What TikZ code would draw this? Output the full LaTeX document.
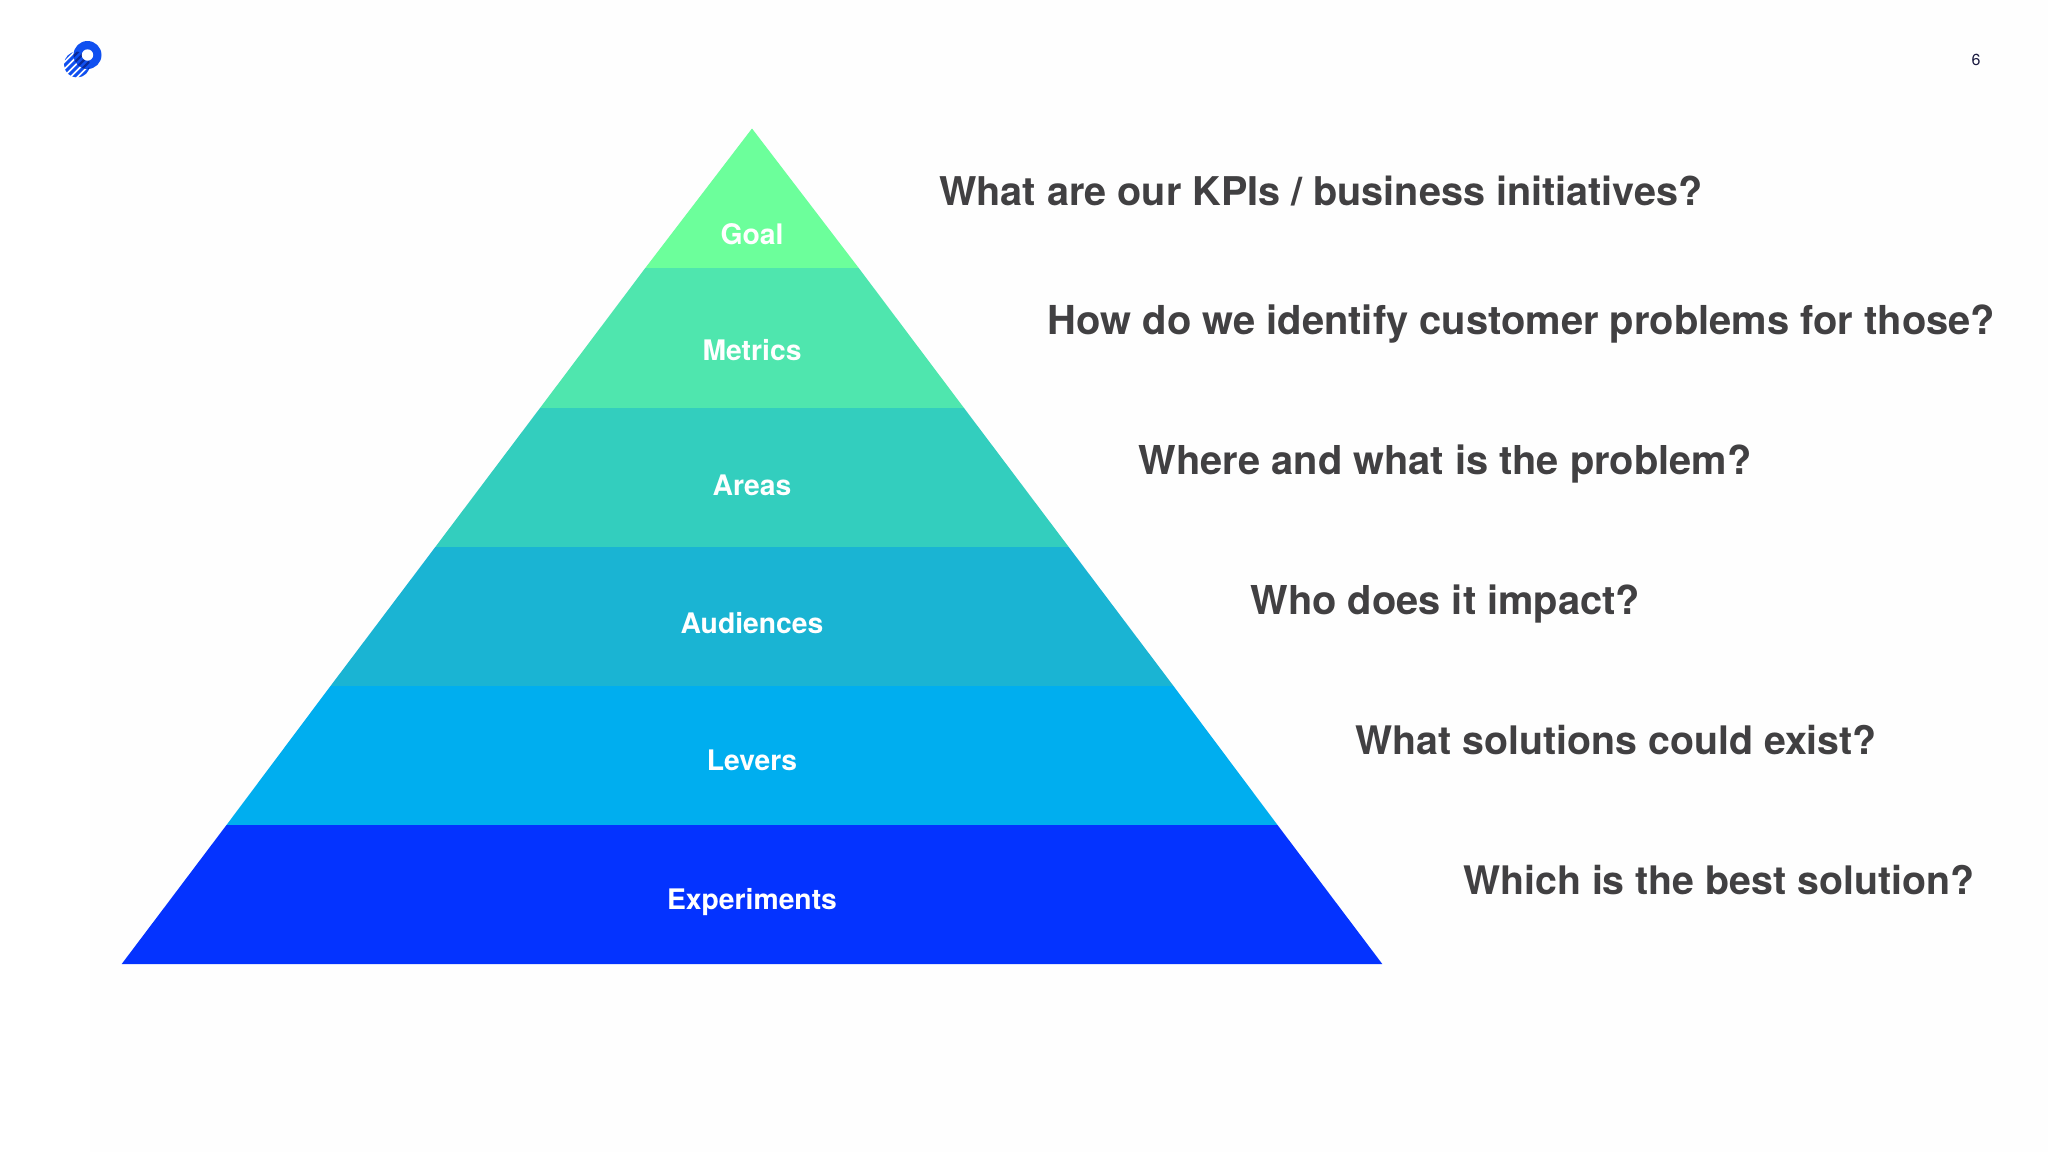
\documentclass[tikz,border=0pt]{standalone}
\usepackage{fontspec}
\setmainfont{TeX Gyre Heros}
\definecolor{bgc}{HTML}{FEFEFE}
\definecolor{goalc}{HTML}{6CFF9B}
\definecolor{metc}{HTML}{4FE6AE}
\definecolor{areac}{HTML}{33CEBE}
\definecolor{audc}{HTML}{1AB4D3}
\definecolor{levc}{HTML}{00AEEF}
\definecolor{expc}{HTML}{0433FF}
\definecolor{qc}{HTML}{414042}
\definecolor{pagec}{HTML}{1A1A40}
\definecolor{logoa}{HTML}{1050F0}
\definecolor{logob}{HTML}{0A2A9A}
\newcommand{\qsize}[1]{\fontsize{#1}{48}\selectfont\bfseries}
\tikzset{
  lvl/.style={font=\fontsize{28.3}{34}\selectfont\bfseries,text=white,inner sep=0pt,anchor=base},
  qst/.style={font=\qsize{#1},text=qc,inner sep=0pt,anchor=base west},
  qst/.default=39.8,
}
\begin{document}
\begin{tikzpicture}[x=1pt,y=-1pt]
\useasboundingbox (0,0) rectangle (2048,1152);
\fill[white] (0,0) rectangle (2048,1152);
\fill[bgc] (90,0) rectangle (2048,1152);
% pyramid
\fill[goalc] (752,128.5) -- (858.7,268) -- (645.3,268) -- cycle;
\fill[metc] (858.7,268) -- (964,408) -- (540,408) -- (645.3,268) -- cycle;
\fill[areac] (964,408) -- (1068.7,547) -- (435.3,547) -- (540,408) -- cycle;
\fill[audc] (1068.7,547) -- (1173.5,686) -- (330.5,686) -- (435.3,547) -- cycle;
\fill[levc] (1173.5,686) -- (1277.5,825) -- (226.5,825) -- (330.5,686) -- cycle;
\fill[expc] (1277.5,825) -- (1382.3,964) -- (121.7,964) -- (226.5,825) -- cycle;
% level labels
\node[lvl] (goal) at (752,244.3) {Goal};
\node[lvl] (metrics) at (752,360.3) {Metrics};
\node[lvl] (areas) at (752,495) {Areas};
\node[lvl] (audiences) at (752,633) {Audiences};
\node[lvl] (levers) at (752,770.8) {Levers};
\node[lvl] (experiments) at (752,909) {Experiments};
% questions
\node[qst=39.6] (q1) at (939,205) {What are our KPIs / business initiatives?};
\node[qst=39.9] (q2) at (1047.5,334) {How do we identify customer problems for those?};
\node[qst] (q3) at (1138.5,474) {Where and what is the problem?};
\node[qst] (q4) at (1250.5,614) {Who does it impact?};
\node[qst=39.3] (q5) at (1355.5,754.5) {What solutions could exist?};
\node[qst=39.3] (q6) at (1463,894.5) {Which is the best solution?};
% page number
\node[font=\fontsize{16}{20}\selectfont,text=pagec,inner sep=0pt] (page) at (1976,59.5) {6};
% logo
\begin{scope}
  \clip (77,64.5) circle (13);
  \foreach \d in {-14,-10.5,...,18}{
    \draw[logoa,line width=3pt] (55+\d,75+\d) -- (95+\d,35+\d);
  }
\end{scope}
\fill[logoa] (87.5,55) circle (14);
\begin{scope}
  \clip (77,64.5) circle (13);
  \clip (87.5,55) circle (14);
  \foreach \d in {-14,-10.5,...,18}{
    \draw[logob,line width=2.2pt] (55+\d,75+\d) -- (95+\d,35+\d);
  }
\end{scope}
\fill[white] (87.5,55) circle (5.7);
\end{tikzpicture}
\end{document}
